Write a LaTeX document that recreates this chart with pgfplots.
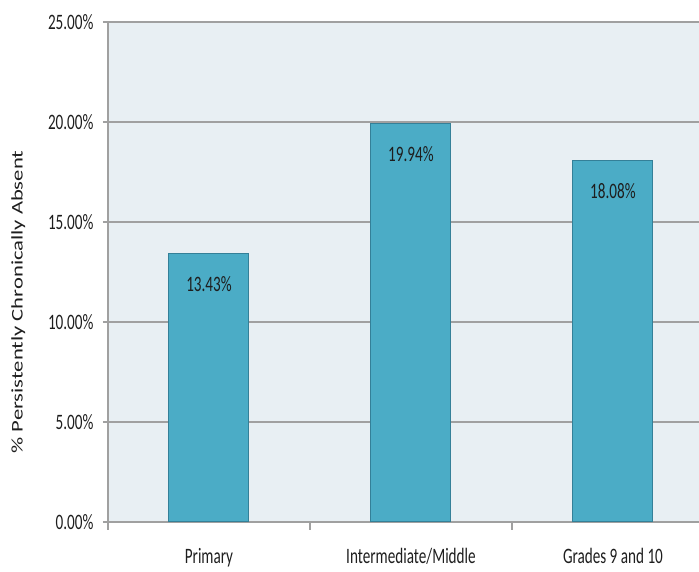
\documentclass[border=0pt]{standalone}
\usepackage{fontspec}
\setmainfont{Carlito}[FakeStretch=0.69]
\newfontfamily\ylfont{Carlito}
\usepackage{pgfplots}
\pgfplotsset{compat=1.18}
\definecolor{bgc}{RGB}{232,239,243}
\definecolor{barc}{RGB}{75,172,198}
\definecolor{barb}{RGB}{52,128,152}
\definecolor{gridc}{RGB}{160,160,160}
\definecolor{txt}{RGB}{30,30,30}
\begin{document}
\begin{tikzpicture}[font=\fontsize{22}{26}\selectfont]
\useasboundingbox (-108pt,-50pt) rectangle (591pt,522pt);
\begin{axis}[
  at={(0,0)}, anchor=south west,
  scale only axis, width=591pt, height=500pt,
  axis background/.style={fill=bgc},
  axis lines*=left,
  axis line style={draw=gridc, line width=1.5pt},
  xmin=-0.5, xmax=2.426,
  ymin=0, ymax=25,
  ytick={0,5,10,15,20,25},
  yticklabels={0.00\%,5.00\%,10.00\%,15.00\%,20.00\%,25.00\%},
  ymajorgrids,
  major grid style={draw=gridc, line width=1.8pt},
  y tick style={draw=gridc, line width=1.5pt},
  tick align=outside,
  major tick length=5pt,
  xtick={0,1,2},
  xticklabels={Primary,Intermediate/Middle,Grades 9 and 10},
  x tick style={draw=none},
  extra x ticks={-0.5,0.5,1.5},
  extra x tick labels={},
  extra x tick style={major tick length=8pt, x tick style={draw=gridc, line width=1.5pt}},
  xticklabel style={anchor=north, yshift=-18pt, text=txt},
  yticklabel style={anchor=east, xshift=-6pt, text=txt},
  ylabel={\ylfont\fontsize{22.6}{26}\selectfont\scalebox{1}[0.72]{\% Persistently Chronically Absent}},
  ylabel style={at={(axis description cs:-0.152,0.44)}, anchor=center, text=txt},
  ybar, bar width=80pt,
  /pgf/number format/assume math mode=true,
  nodes near coords={\pgfmathprintnumber[fixed,fixed zerofill,precision=2,assume math mode=true]{\pgfplotspointmeta}\%},
  every node near coord/.append style={anchor=center, yshift=-31pt, text=txt, font=\fontsize{22}{26}\selectfont},
]
\addplot[fill=barc, draw=barb, line width=1pt] coordinates {(0,13.43) (1,19.94) (2,18.08)};
\end{axis}
\end{tikzpicture}
\end{document}
